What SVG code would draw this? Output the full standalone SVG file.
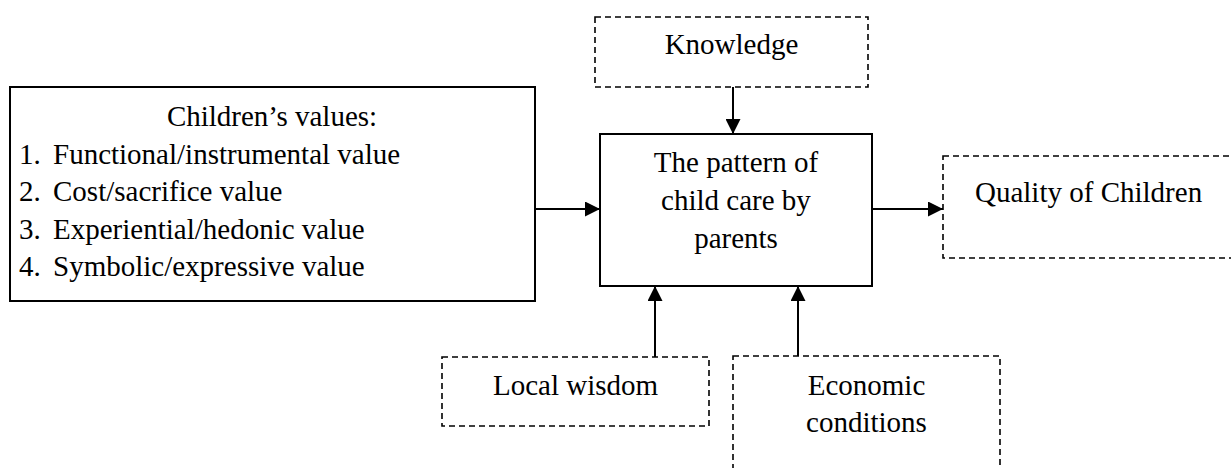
<svg xmlns="http://www.w3.org/2000/svg" width="1231" height="468" viewBox="0 0 1231 468">
<defs>
<style>
text{font-family:"Liberation Serif","Times New Roman",serif;font-size:29px;fill:#000}
.solid{fill:#fff;stroke:#000;stroke-width:2}
.dash{fill:#fff;stroke:#000;stroke-width:1.6;stroke-dasharray:6 4}
.c{text-anchor:middle}
.conn{stroke:#000;stroke-width:2;fill:none;marker-end:url(#ah)}
</style>
<marker id="ah" markerUnits="userSpaceOnUse" markerWidth="15" markerHeight="15" refX="15" refY="7.5" orient="auto">
<path d="M0,0 L15,7.5 L0,15 z" fill="#000"/>
</marker>
</defs>
<rect width="1231" height="468" fill="#fff"/>
<g id="values">
<rect class="solid" x="10" y="87" width="525" height="214"/>
<text class="c" x="272" y="126">Children’s values:</text>
<text x="19" y="164">1.</text><text x="53" y="164">Functional/instrumental value</text>
<text x="19" y="201">2.</text><text x="53" y="201">Cost/sacrifice value</text>
<text x="19" y="239">3.</text><text x="53" y="239">Experiential/hedonic value</text>
<text x="19" y="276">4.</text><text x="53" y="276">Symbolic/expressive value</text>
</g>
<g id="knowledge">
<rect class="dash" x="595" y="17" width="273" height="70"/>
<text class="c" x="731.5" y="54">Knowledge</text>
</g>
<g id="pattern">
<rect class="solid" x="600" y="134" width="272" height="152"/>
<text class="c" x="736" y="172">The pattern of</text>
<text class="c" x="736" y="210">child care by</text>
<text class="c" x="736" y="248">parents</text>
</g>
<g id="quality">
<rect class="dash" x="943" y="156" width="295" height="102"/>
<text x="975" y="202">Quality of Children</text>
</g>
<g id="wisdom">
<rect class="dash" x="442" y="357" width="267" height="69"/>
<text class="c" x="575.5" y="395">Local wisdom</text>
</g>
<g id="economic">
<rect class="dash" x="733" y="356" width="267" height="130"/>
<text class="c" x="866.5" y="395">Economic</text>
<text class="c" x="866.5" y="432">conditions</text>
</g>
<g id="connectors">
<line class="conn" x1="535" y1="209" x2="600" y2="209"/>
<line class="conn" x1="872" y1="209" x2="943" y2="209"/>
<line class="conn" x1="733" y1="87" x2="733" y2="134"/>
<line class="conn" x1="655" y1="357" x2="655" y2="286"/>
<line class="conn" x1="798" y1="356" x2="798" y2="286"/>
</g>
</svg>
